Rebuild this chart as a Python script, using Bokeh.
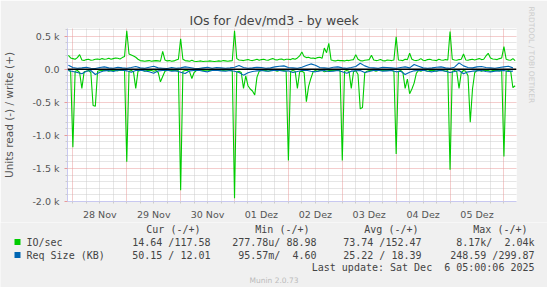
from bokeh.plotting import figure
from bokeh.layouts import column
from bokeh.models import Range1d, FixedTicker, Grid, Span, Title
from bokeh.core.properties import value
from bokeh.embed import file_html
from bokeh.resources import INLINE

# ---------------- data ----------------
# hours relative to 28 Nov 00:00 (local time)
hours_1h = list(range(-2, 198))
hours_2h = list(range(-2, 198, 2))

# IO/sec write (+), hourly
io_write = (
    [210, 170]
    + [160, 150, 175, 220, 140, 130, 145, 150, 135, 140, 150, 155, 145, 160, 150, 155, 165, 150, 160, 170, 165, 155, 175, 190]
    + [580, 230, 215, 200, 180, 150, 130, 125, 120, 125, 130, 120, 125, 130, 125, 120, 270, 140, 125, 130, 120, 125, 140, 150]
    + [460, 150, 130, 125, 120, 135, 120, 115, 120, 125, 115, 120, 120, 125, 120, 115, 120, 125, 120, 130, 125, 120, 125, 130]
    + [580, 160, 140, 135, 130, 140, 145, 135, 130, 140, 150, 135, 145, 150, 140, 135, 150, 160, 145, 140, 150, 155, 140, 150]
    + [150, 145, 160, 150, 170, 200, 260, 190, 175, 180, 165, 170, 160, 175, 180, 165, 320, 250, 390, 140, 130, 125, 135, 130]
    + [130, 125, 135, 130, 140, 145, 220, 150, 130, 125, 135, 140, 145, 210, 140, 130, 135, 145, 130, 125, 140, 135, 130, 140]
    + [490, 140, 135, 130, 150, 145, 240, 150, 135, 130, 140, 160, 135, 130, 145, 150, 140, 135, 130, 150, 140, 135, 145, 140]
    + [570, 150, 140, 135, 145, 150, 230, 140, 135, 145, 150, 140, 150, 160, 145, 150, 200, 240, 170, 155, 150, 145, 160, 170]
    + [340, 150, 140, 135, 160, 130]
)

# IO/sec read (-), hourly
io_read = (
    [-20, -30]
    + [-1180, -30, -20, -50, -290, -40, -30, -20, -50, -550, -560, -30, -20, -15, -20, -15, -30, -20, -15, -20, -25, -15, -20, -15]
    + [-1400, -30, -20, -40, -290, -30, -20, -15, -30, -20, -15, -20, -30, -20, -50, -190, -110, -30, -20, -15, -20, -15, -25, -20]
    + [-1830, -30, -20, -15, -40, -140, -50, -20, -15, -15, -20, -15, -15, -20, -15, -15, -20, -15, -15, -20, -15, -15, -20, -25]
    + [-1950, -40, -30, -50, -290, -100, -250, -300, -330, -390, -120, -30, -20, -15, -20, -30, -20, -15, -20, -30, -20, -15, -20, -30]
    + [-1380, -30, -20, -30, -290, -40, -30, -50, -490, -260, -140, -40, -20, -30, -20, -15, -40, -30, -20, -15, -20, -15, -20, -15]
    + [-1380, -30, -20, -30, -290, -40, -20, -80, -600, -580, -60, -30, -20, -15, -20, -30, -20, -15, -20, -15, -20, -15, -20, -30]
    + [-1280, -30, -20, -50, -290, -150, -370, -300, -210, -60, -20, -30, -15, -20, -30, -20, -15, -20, -30, -20, -15, -20, -30, -20]
    + [-1520, -30, -20, -40, -290, -50, -20, -30, -100, -800, -300, -50, -20, -15, -30, -20, -15, -20, -30, -20, -15, -20, -25, -20]
    + [-1320, -30, -20, -30, -280, -250]
)

# Req Size (KB) write (+), 2-hourly
req_write = [
    60, 25, 15, 20, 30, 15, 10, 25, 35, 20, 15, 30,
    20, 15, 25, 40, 20, 15, 30, 45, 20, 15, 10, 25,
    15, 20, 35, 25, 15, 10, 20, 30, 15, 25, 20, 15,
    20, 30, 55, 25, 15, 20, 30, 25, 15, 20, 35, 45,
    50, 25, 20, 15, 30, 55, 80, 60, 25, 20, 15, 30,
    35, 20, 15, 25, 40, 90, 50, 25, 20, 15, 30, 25,
    20, 15, 25, 35, 20, 70, 45, 20, 15, 20, 30, 35,
    20, 15, 30, 95, 50, 25, 20, 35, 40, 25, 20, 15,
    25, 35, 45, 20,
]

# Req Size (KB) read (-), 2-hourly
req_read = [
    -20, -35, -50, -70, -30, -20, -80, -45, -25, -20, -35, -15,
    -15, -25, -45, -20, -15, -25, -40, -60, -25, -20, -15, -30,
    -25, -45, -65, -25, -20, -15, -30, -40, -20, -15, -25, -30,
    -20, -30, -50, -90, -55, -35, -25, -20, -30, -25, -15, -20,
    -30, -25, -50, -35, -20, -15, -30, -40, -25, -20, -35, -30,
    -20, -40, -60, -30, -25, -20, -50, -35, -20, -15, -30, -25,
    -20, -40, -30, -80, -45, -25, -20, -15, -30, -40, -25, -20,
    -30, -50, -35, -20, -70, -40, -30, -25, -20, -35, -40, -30,
    -25, -20, -35, -30,
]

day_labels = ["28 Nov", "29 Nov", "30 Nov", "01 Dez", "02 Dez", "03 Dez", "04 Dez", "05 Dez"]
y_ticks = [-2000, -1500, -1000, -500, 0, 500]
y_tick_labels = ["-2.0 k", "-1.5 k", "-1.0 k", "-0.5 k", "0.0", "0.5 k"]

NB = "\u00A0"
legend_header = ["Cur (-/+)", "Min (-/+)", "Avg (-/+)", "Max (-/+)"]
legend_names = ["IO/sec", "Req Size (KB)"]
legend_values = [
    ["14.64 /117.58", "277.78u/ 88.98", "73.74 /152.47", "8.17k/ " + NB + "2.04k"],
    ["50.15 / 12.01", "95.57m/ " + NB + "4.60", "25.22 / 18.39", "248.59 /299.87"],
]
last_update = "Last update: Sat Dec " + NB + "6 05:00:06 2025"
footer = "Munin 2.0.73"

# ---------------- layout ----------------
W = 547
HA, HB = 222, 65          # chart part / legend part heights
FL, FR, FT, FB = 67, 517, 28, 203
GREEN = "#00CC00"
BLUE = "#0066B3"
AXIS = "#C8C8F0"
MGRID = "#E89A9A"
NGRID = "#CCCCCC"
BG = "#F0F0F0"
TXT = "#444444"

p = figure(width=W, height=HA, output_backend="svg", toolbar_location=None,
           x_range=Range1d(-2.4, 197.6), y_range=Range1d(-2000, 615),
           min_border_left=FL, min_border_right=W - FR,
           min_border_top=FT, min_border_bottom=HA - FB,
           background_fill_color="white", border_fill_color=BG,
           outline_line_color=None)
p.frame_align = False

p.title.text = "IOs for /dev/md3 - by week"
p.title.align = "left"
p.title.offset = 122
p.title.standoff = 2
p.title.text_font = "DejaVu Sans"
p.title.text_font_size = "12.5px"
p.title.text_font_style = "normal"
p.title.text_color = "#444444"

p.add_layout(Title(text="RRDTOOL / TOBI OETIKER", align="left", offset=-22,
                   text_font="DejaVu Sans", text_font_size="7.5px", text_font_style="normal",
                   text_color="#CCCCCC", standoff=20), "right")

p.xgrid.visible = False
p.ygrid.visible = False

midnights = [24 * k for k in range(9)]
six_h = [6 * k for k in range(0, 33) if k % 4 != 0]
label_pos = [12 + 24 * k for k in range(len(day_labels))]
y_minor = [v for v in range(-2000, 601, 100) if v % 500 != 0]

for dim, ticks, col in [(0, six_h, NGRID), (1, y_minor, NGRID), (0, midnights, MGRID), (1, y_ticks, MGRID)]:
    p.add_layout(Grid(dimension=dim, ticker=FixedTicker(ticks=ticks),
                      grid_line_color=col, grid_line_dash="1 1", grid_line_width=1))

xa = p.xaxis[0]
xa.ticker = FixedTicker(ticks=label_pos, minor_ticks=[6 * k for k in range(33)])
xa.major_label_overrides = {pos: lab for pos, lab in zip(label_pos, day_labels)}
xa.major_tick_line_color = None
xa.major_tick_out = 0
xa.minor_tick_out = 2
xa.minor_tick_in = 0
xa.minor_tick_line_color = NGRID
xa.major_label_standoff = 5
xa.axis_line_color = AXIS
xa.major_label_text_font = "DejaVu Sans"
xa.major_label_text_font_size = "9.5px"
xa.major_label_text_color = "#555555"

ya = p.yaxis[0]
ya.ticker = FixedTicker(ticks=y_ticks, minor_ticks=y_minor)
ya.major_label_overrides = {t: l for t, l in zip(y_ticks, y_tick_labels)}
ya.major_tick_out = 3
ya.major_tick_in = 0
ya.major_tick_line_color = MGRID
ya.minor_tick_out = 2
ya.minor_tick_in = 0
ya.minor_tick_line_color = NGRID
ya.major_label_standoff = 5
ya.axis_line_color = AXIS
ya.major_label_text_font = "DejaVu Sans"
ya.major_label_text_font_size = "9.5px"
ya.major_label_text_color = "#555555"
ya.axis_label = "Units read (-) / write (+)"
ya.axis_label_text_font = "DejaVu Sans"
ya.axis_label_text_font_size = "10.5px"
ya.axis_label_text_font_style = "normal"
ya.axis_label_text_color = "#555555"
ya.axis_label_standoff = 14

p.line(hours_1h, io_write, line_color=GREEN, line_width=1.1)
p.line(hours_1h, io_read, line_color=GREEN, line_width=1.1)
p.add_layout(Span(location=0, dimension="width", line_color="black", line_width=1.5))
p.line(hours_2h, req_write, line_color=BLUE, line_width=1.1)
p.line(hours_2h, req_read, line_color=BLUE, line_width=1.1)

# ---------------- legend part (pixel space, y down) ----------------
q = figure(width=W, height=HB, output_backend="svg", toolbar_location=None,
           x_range=Range1d(0, W), y_range=Range1d(HB, 0),
           x_axis_type=None, y_axis_type=None,
           min_border_left=0, min_border_right=0, min_border_top=0, min_border_bottom=0,
           background_fill_color=BG, border_fill_color=BG, outline_line_color=None)
q.frame_align = False

mono = value("DejaVu Sans Mono")
header_ends = [200, 309, 418, 527]
value_ends = [210, 316, 421, 534]
row_y = [19.5, 32.5]

q.text(x=header_ends, y=[7] * 4, text=legend_header, text_font=mono, text_font_size=value("10px"),
       text_align="right", text_baseline="middle", text_color=TXT)
for i, (name, col) in enumerate(zip(legend_names, [GREEN, BLUE])):
    y = row_y[i]
    q.quad(left=[14], right=[20], top=[y - 3], bottom=[y + 3], fill_color=col, line_color=None)
    q.text(x=[26], y=[y], text=[name], text_font=mono, text_font_size=value("10px"),
           text_align="left", text_baseline="middle", text_color=TXT)
    q.text(x=value_ends, y=[y] * 4, text=legend_values[i], text_font=mono, text_font_size=value("10px"),
           text_align="right", text_baseline="middle", text_color=TXT)
q.text(x=[534], y=[45], text=[last_update], text_font=mono, text_font_size=value("10px"),
       text_align="right", text_baseline="middle", text_color=TXT)
q.text(x=[W / 2], y=[57.5], text=[footer], text_font=value("DejaVu Sans"), text_font_size=value("7.5px"),
       text_align="center", text_baseline="middle", text_color="#BBBBBB")

layout = column(p, q, spacing=0)
open("out.html", "w").write(file_html(layout, INLINE))
